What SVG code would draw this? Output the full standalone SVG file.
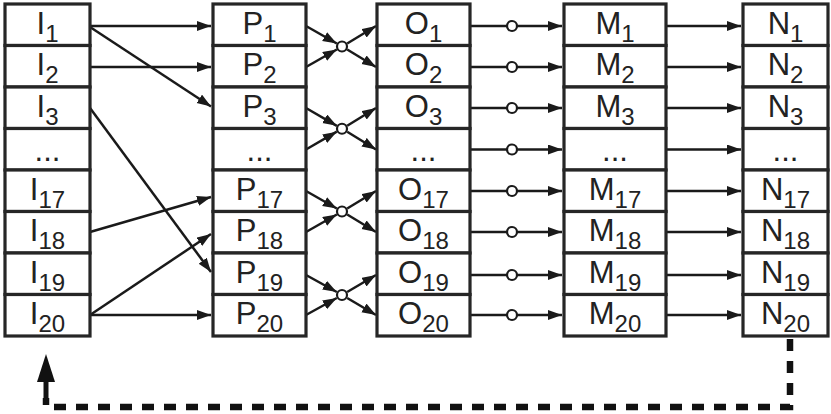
<svg xmlns="http://www.w3.org/2000/svg" width="831" height="414" viewBox="0 0 831 414">
<style>
.cell{fill:#fff;stroke:#262626;stroke-width:3.2}
.t{font-family:"Liberation Sans",Arial,sans-serif;font-size:31px;fill:#222;text-anchor:middle}
.s{font-size:24px}
.c{fill:none;stroke:#1a1a1a;stroke-width:2.5}
.a{marker-end:url(#ah)}
.o{fill:#fff;stroke:#1a1a1a;stroke-width:2.2}
.d{fill:none;stroke:#111;stroke-width:6.5;stroke-dasharray:12 10}
</style>
<defs>
<marker id="ah" markerUnits="userSpaceOnUse" markerWidth="16" markerHeight="12" refX="14" refY="5" orient="auto">
<path d="M0,0 L14,5 L0,10 z" fill="#1a1a1a"/>
</marker>
</defs>
<g id="connectors">
<path class="c a" d="M90,26 H211"/>
<path class="c a" d="M90,27 L211,106.5"/>
<path class="c a" d="M90,67 H211"/>
<path class="c a" d="M90,108 L211,272"/>
<path class="c a" d="M90,232 L211,197"/>
<path class="c a" d="M90,315 L211,234"/>
<path class="c a" d="M90,315 H211"/>
<path class="c a" d="M306,26 L336.8,43.5"/>
<path class="c a" d="M306,67 L336.8,49.5"/>
<path class="c a" d="M347.2,49.5 L376,67"/>
<path class="c a" d="M347.2,43.5 L376,26"/>
<circle class="o" cx="342" cy="46.5" r="5"/>
<path class="c a" d="M306,108 L336.8,125.8"/>
<path class="c a" d="M306,149.5 L336.8,131.7"/>
<path class="c a" d="M347.2,131.7 L376,149.5"/>
<path class="c a" d="M347.2,125.8 L376,108"/>
<circle class="o" cx="342" cy="128.75" r="5"/>
<path class="c a" d="M306,191 L336.8,208.5"/>
<path class="c a" d="M306,232 L336.8,214.5"/>
<path class="c a" d="M347.2,214.5 L376,232"/>
<path class="c a" d="M347.2,208.5 L376,191"/>
<circle class="o" cx="342" cy="211.5" r="5"/>
<path class="c a" d="M306,275 L336.8,292"/>
<path class="c a" d="M306,315 L336.8,298"/>
<path class="c a" d="M347.2,298 L376,315"/>
<path class="c a" d="M347.2,292 L376,275"/>
<circle class="o" cx="342" cy="295" r="5"/>
<path class="c a" d="M470,26 H562"/><circle class="o" cx="512" cy="26" r="5"/>
<path class="c a" d="M470,67 H562"/><circle class="o" cx="512" cy="67" r="5"/>
<path class="c a" d="M470,108 H562"/><circle class="o" cx="512" cy="108" r="5"/>
<path class="c a" d="M470,149.5 H562"/><circle class="o" cx="512" cy="149.5" r="5"/>
<path class="c a" d="M470,191 H562"/><circle class="o" cx="512" cy="191" r="5"/>
<path class="c a" d="M470,232 H562"/><circle class="o" cx="512" cy="232" r="5"/>
<path class="c a" d="M470,275 H562"/><circle class="o" cx="512" cy="275" r="5"/>
<path class="c a" d="M470,315 H562"/><circle class="o" cx="512" cy="315" r="5"/>
<path class="c a" d="M666,26 H741"/>
<path class="c a" d="M666,67 H741"/>
<path class="c a" d="M666,108 H741"/>
<path class="c a" d="M666,149.5 H741"/>
<path class="c a" d="M666,191 H741"/>
<path class="c a" d="M666,232 H741"/>
<path class="c a" d="M666,275 H741"/>
<path class="c a" d="M666,315 H741"/>
<path class="d" d="M790,339 V407 H46 V398"/>
<path d="M46,398 V378" stroke="#111" stroke-width="5" fill="none"/>
<path d="M46,354 L55,382 L37,382 z" fill="#111"/>
</g>
<g id="I1"><rect class="cell" x="5" y="4" width="85" height="41.5"/><text class="t" x="47.5" y="33.5">I<tspan class="s" dy="8">1</tspan></text></g>
<g id="I2"><rect class="cell" x="5" y="45.5" width="85" height="41.5"/><text class="t" x="47.5" y="75">I<tspan class="s" dy="8">2</tspan></text></g>
<g id="I3"><rect class="cell" x="5" y="87" width="85" height="41.5"/><text class="t" x="47.5" y="116.5">I<tspan class="s" dy="8">3</tspan></text></g>
<g id="Idots"><rect class="cell" x="5" y="128.5" width="85" height="41.5"/><text class="t" x="47.5" y="160.5">...</text></g>
<g id="I17"><rect class="cell" x="5" y="170" width="85" height="41.5"/><text class="t" x="47.5" y="199.5">I<tspan class="s" dy="8">17</tspan></text></g>
<g id="I18"><rect class="cell" x="5" y="211.5" width="85" height="41.5"/><text class="t" x="47.5" y="241">I<tspan class="s" dy="8">18</tspan></text></g>
<g id="I19"><rect class="cell" x="5" y="253" width="85" height="41.5"/><text class="t" x="47.5" y="282.5">I<tspan class="s" dy="8">19</tspan></text></g>
<g id="I20"><rect class="cell" x="5" y="294.5" width="85" height="41.5"/><text class="t" x="47.5" y="324">I<tspan class="s" dy="8">20</tspan></text></g>

<g id="P1"><rect class="cell" x="213" y="4" width="93" height="41.5"/><text class="t" x="259.5" y="33.5">P<tspan class="s" dy="8">1</tspan></text></g>
<g id="P2"><rect class="cell" x="213" y="45.5" width="93" height="41.5"/><text class="t" x="259.5" y="75">P<tspan class="s" dy="8">2</tspan></text></g>
<g id="P3"><rect class="cell" x="213" y="87" width="93" height="41.5"/><text class="t" x="259.5" y="116.5">P<tspan class="s" dy="8">3</tspan></text></g>
<g id="Pdots"><rect class="cell" x="213" y="128.5" width="93" height="41.5"/><text class="t" x="259.5" y="160.5">...</text></g>
<g id="P17"><rect class="cell" x="213" y="170" width="93" height="41.5"/><text class="t" x="259.5" y="199.5">P<tspan class="s" dy="8">17</tspan></text></g>
<g id="P18"><rect class="cell" x="213" y="211.5" width="93" height="41.5"/><text class="t" x="259.5" y="241">P<tspan class="s" dy="8">18</tspan></text></g>
<g id="P19"><rect class="cell" x="213" y="253" width="93" height="41.5"/><text class="t" x="259.5" y="282.5">P<tspan class="s" dy="8">19</tspan></text></g>
<g id="P20"><rect class="cell" x="213" y="294.5" width="93" height="41.5"/><text class="t" x="259.5" y="324">P<tspan class="s" dy="8">20</tspan></text></g>

<g id="O1"><rect class="cell" x="377" y="4" width="93" height="41.5"/><text class="t" x="423.5" y="33.5">O<tspan class="s" dy="8">1</tspan></text></g>
<g id="O2"><rect class="cell" x="377" y="45.5" width="93" height="41.5"/><text class="t" x="423.5" y="75">O<tspan class="s" dy="8">2</tspan></text></g>
<g id="O3"><rect class="cell" x="377" y="87" width="93" height="41.5"/><text class="t" x="423.5" y="116.5">O<tspan class="s" dy="8">3</tspan></text></g>
<g id="Odots"><rect class="cell" x="377" y="128.5" width="93" height="41.5"/><text class="t" x="423.5" y="160.5">...</text></g>
<g id="O17"><rect class="cell" x="377" y="170" width="93" height="41.5"/><text class="t" x="423.5" y="199.5">O<tspan class="s" dy="8">17</tspan></text></g>
<g id="O18"><rect class="cell" x="377" y="211.5" width="93" height="41.5"/><text class="t" x="423.5" y="241">O<tspan class="s" dy="8">18</tspan></text></g>
<g id="O19"><rect class="cell" x="377" y="253" width="93" height="41.5"/><text class="t" x="423.5" y="282.5">O<tspan class="s" dy="8">19</tspan></text></g>
<g id="O20"><rect class="cell" x="377" y="294.5" width="93" height="41.5"/><text class="t" x="423.5" y="324">O<tspan class="s" dy="8">20</tspan></text></g>

<g id="M1"><rect class="cell" x="564" y="4" width="102" height="41.5"/><text class="t" x="615" y="33.5">M<tspan class="s" dy="8">1</tspan></text></g>
<g id="M2"><rect class="cell" x="564" y="45.5" width="102" height="41.5"/><text class="t" x="615" y="75">M<tspan class="s" dy="8">2</tspan></text></g>
<g id="M3"><rect class="cell" x="564" y="87" width="102" height="41.5"/><text class="t" x="615" y="116.5">M<tspan class="s" dy="8">3</tspan></text></g>
<g id="Mdots"><rect class="cell" x="564" y="128.5" width="102" height="41.5"/><text class="t" x="615" y="160.5">...</text></g>
<g id="M17"><rect class="cell" x="564" y="170" width="102" height="41.5"/><text class="t" x="615" y="199.5">M<tspan class="s" dy="8">17</tspan></text></g>
<g id="M18"><rect class="cell" x="564" y="211.5" width="102" height="41.5"/><text class="t" x="615" y="241">M<tspan class="s" dy="8">18</tspan></text></g>
<g id="M19"><rect class="cell" x="564" y="253" width="102" height="41.5"/><text class="t" x="615" y="282.5">M<tspan class="s" dy="8">19</tspan></text></g>
<g id="M20"><rect class="cell" x="564" y="294.5" width="102" height="41.5"/><text class="t" x="615" y="324">M<tspan class="s" dy="8">20</tspan></text></g>

<g id="N1"><rect class="cell" x="743" y="4" width="85" height="41.5"/><text class="t" x="785.5" y="33.5">N<tspan class="s" dy="8">1</tspan></text></g>
<g id="N2"><rect class="cell" x="743" y="45.5" width="85" height="41.5"/><text class="t" x="785.5" y="75">N<tspan class="s" dy="8">2</tspan></text></g>
<g id="N3"><rect class="cell" x="743" y="87" width="85" height="41.5"/><text class="t" x="785.5" y="116.5">N<tspan class="s" dy="8">3</tspan></text></g>
<g id="Ndots"><rect class="cell" x="743" y="128.5" width="85" height="41.5"/><text class="t" x="785.5" y="160.5">...</text></g>
<g id="N17"><rect class="cell" x="743" y="170" width="85" height="41.5"/><text class="t" x="785.5" y="199.5">N<tspan class="s" dy="8">17</tspan></text></g>
<g id="N18"><rect class="cell" x="743" y="211.5" width="85" height="41.5"/><text class="t" x="785.5" y="241">N<tspan class="s" dy="8">18</tspan></text></g>
<g id="N19"><rect class="cell" x="743" y="253" width="85" height="41.5"/><text class="t" x="785.5" y="282.5">N<tspan class="s" dy="8">19</tspan></text></g>
<g id="N20"><rect class="cell" x="743" y="294.5" width="85" height="41.5"/><text class="t" x="785.5" y="324">N<tspan class="s" dy="8">20</tspan></text></g>
</svg>
